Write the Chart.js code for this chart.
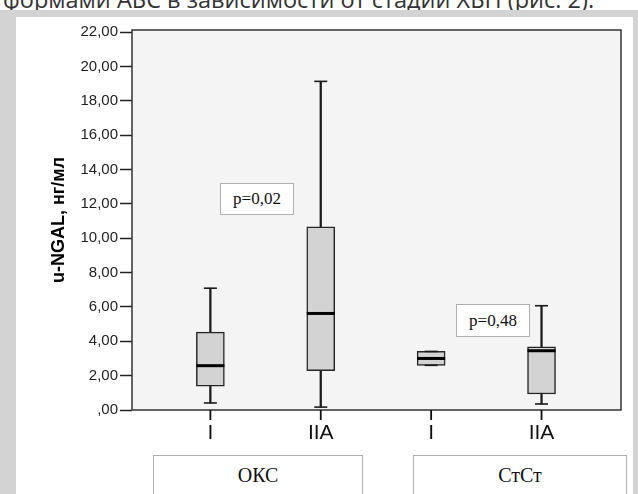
<!DOCTYPE html>
<html>
<head>
<meta charset="utf-8">
<script src="https://cdn.jsdelivr.net/npm/chart.js@4/dist/chart.umd.min.js"></script>
<style>
  html, body { margin:0; padding:0; }
  body { width:638px; height:494px; overflow:hidden; position:relative; background:#fff; }
  #toptext { position:absolute; left:3px; top:-13px; font-family:"Open Sans", sans-serif; font-size:23.5px; line-height:24px; color:#333; white-space:nowrap; }
  #frame { position:absolute; left:0; top:10px; width:638px; height:484px; background:#d3d3d3; }
  #panel { position:absolute; left:16px; top:17px; width:617px; height:477px; background:#fff; }
  #wrap { position:absolute; left:0; top:0; width:638px; height:494px; }
  .pbox { position:absolute; background:#fff; border:1px solid #b0b0b0; box-sizing:border-box;
          font-family:"Liberation Serif", "Times New Roman", serif; font-size:17px; color:#111;
          display:flex; align-items:center; justify-content:center; }
  .gbox { position:absolute; background:#fff; border:1px solid #b0b0b0; box-sizing:border-box;
          font-family:"Liberation Serif", "Times New Roman", serif; font-size:20px; line-height:24px; color:#111;
          text-align:center; padding-top:7px; }
</style>
</head>
<body>
<div id="toptext">формами АБС в зависимости от стадии ХБП (рис. 2).</div>
<div id="frame"></div>
<div id="panel"></div>
<div id="wrap"><canvas id="c" width="638" height="494"></canvas></div>
<div class="pbox" id="p0" style="left:220px;top:183px;width:74px;height:32px;"></div>
<div class="pbox" id="p1" style="left:456px;top:304px;width:74px;height:33px;"></div>
<div class="gbox" id="g0" style="left:153px;top:455px;width:210px;height:60px;"></div>
<div class="gbox" id="g1" style="left:413px;top:455px;width:214px;height:60px;"></div>
<script>
// ---- data ----
const categories = ['I', 'IIA', 'I', 'IIA'];
const groups = ['ОКС', 'СтСт'];
const pValues = ['p=0,02', 'p=0,48'];
const xPos = [0, 1, 2, 3];
const whiskerMin = [0.41, 0.17, 2.60, 0.35];
const q1 = [1.38, 2.29, 2.60, 0.93];
const median = [2.58, 5.62, 3.00, 3.45];
const q3 = [4.53, 10.66, 3.41, 3.68];
const whiskerMax = [7.09, 19.13, 3.41, 6.07];
const yTicks = [0, 2, 4, 6, 8, 10, 12, 14, 16, 18, 20, 22];

document.getElementById('p0').textContent = pValues[0];
document.getElementById('p1').textContent = pValues[1];
document.getElementById('g0').textContent = groups[0];
document.getElementById('g1').textContent = groups[1];

function fmtY(v) {
  const s = Number(v).toFixed(2).replace('.', ',');
  return v === 0 ? ',00' : s;
}

const plotFrame = {
  id: 'plotFrame',
  beforeDatasetsDraw(chart) {
    const a = chart.chartArea, c = chart.ctx;
    c.save();
    c.fillStyle = '#f4f4f4';
    c.fillRect(a.left, a.top, a.right - a.left, a.bottom - a.top);
    c.restore();
  },
  afterDatasetsDraw(chart) {
    const a = chart.chartArea, c = chart.ctx;
    c.save();
    c.strokeStyle = '#333';
    c.lineWidth = 1.5;
    c.strokeRect(a.left, a.top, a.right - a.left, a.bottom - a.top);
    // x-axis tick marks at category centres
    const xs = chart.scales.x;
    c.strokeStyle = '#111';
    c.lineWidth = 1.8;
    c.beginPath();
    xPos.forEach(v => {
      const px = xs.getPixelForValue(v);
      c.moveTo(px, a.bottom);
      c.lineTo(px, a.bottom + 10);
    });
    c.stroke();
    c.restore();
  }
};

new Chart(document.getElementById('c'), {
  type: 'bar',
  data: {
    datasets: [
      {
        type: 'bar', label: 'whisker',
        data: xPos.map((x, i) => ({ x: x, y: [whiskerMin[i], whiskerMax[i]] })),
        backgroundColor: '#1a1a1a', borderWidth: 0, barThickness: 1.6,
        grouped: false, order: 3
      },
      {
        type: 'bar', label: 'box',
        data: xPos.map((x, i) => ({ x: x, y: [q1[i], q3[i]] })),
        backgroundColor: '#d3d3d3', borderColor: '#262626', borderWidth: 1.5,
        borderSkipped: false, barThickness: 28, grouped: false, order: 2
      },
      {
        type: 'scatter', label: 'median',
        data: xPos.map((x, i) => ({ x: x, y: median[i] })),
        pointStyle: 'line', pointRadius: 14, borderColor: '#000', borderWidth: 3,
        showLine: false, order: 1
      },
      {
        type: 'scatter', label: 'caps',
        data: xPos.map((x, i) => ({ x: x, y: whiskerMin[i] }))
          .concat(xPos.map((x, i) => ({ x: x, y: whiskerMax[i] }))),
        pointStyle: 'line', pointRadius: 6.5, borderColor: '#1a1a1a', borderWidth: 1.6,
        showLine: false, order: 1
      }
    ]
  },
  options: {
    responsive: false,
    animation: false,
    events: [],
    layout: { padding: { left: 16, top: 30, right: 13, bottom: 0 } },
    plugins: { legend: { display: false }, tooltip: { enabled: false } },
    scales: {
      x: {
        type: 'linear', min: -0.71, max: 3.72, offset: false,
        afterBuildTicks: s => { s.ticks = xPos.map(v => ({ value: v })); },
        afterFit: s => { s.height = 84; },
        grid: { display: false, drawTicks: false },
        border: { display: false },
        ticks: {
          callback: v => (categories[v] !== undefined ? categories[v] : ''),
          font: { family: 'Liberation Sans', size: 21 }, color: '#111',
          padding: 11, maxRotation: 0, autoSkip: false
        }
      },
      y: {
        type: 'linear', min: 0, max: 22.12,
        afterBuildTicks: s => { s.ticks = yTicks.map(v => ({ value: v })); },
        afterFit: s => { s.width = 116; },
        grid: { drawOnChartArea: false, drawTicks: true, tickLength: 12, color: '#222', tickWidth: 1.5 },
        border: { display: false },
        ticks: {
          callback: v => fmtY(v),
          font: { family: 'Liberation Sans', size: 15 }, color: '#222', padding: 2
        },
        title: {
          display: true, text: 'u-NGAL, нг/мл',
          font: { family: 'Liberation Sans', size: 18, weight: 'bold' }, color: '#000',
          padding: { top: 32, bottom: 0 }
        }
      }
    }
  },
  plugins: [plotFrame]
});
</script>
</body>
</html>
